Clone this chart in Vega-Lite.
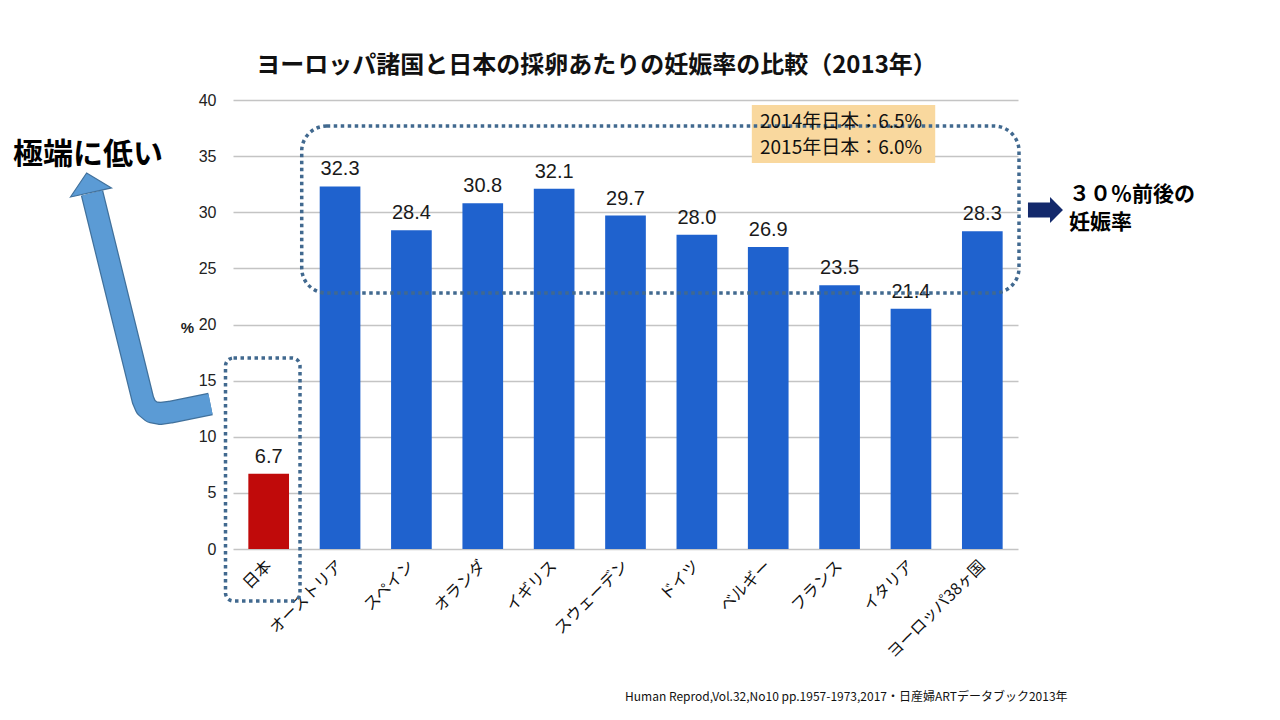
{
  "$schema": "https://vega.github.io/schema/vega-lite/v6.json",
  "width": 785,
  "height": 449,
  "autosize": {"type": "none"},
  "padding": {"left": 233, "top": 100, "right": 262, "bottom": 171},
  "background": "white",
  "config": {"view": {"stroke": null}},
  "title": {
    "text": "ヨーロッパ諸国と日本の採卵あたりの妊娠率の比較（2013年）",
    "anchor": "middle",
    "frame": "group",
    "dx": -29,
    "offset": 2,
    "baseline": "middle",
    "font": "Noto Sans CJK JP",
    "fontSize": 24,
    "fontWeight": "bold",
    "color": "#111111"
  },
  "resolve": {"scale": {"x": "independent"}},
  "layer": [
    {
      "data": {
        "values": [
          {"country": "日本", "v": 6.7, "c": "jp"},
          {"country": "オーストリア", "v": 32.3, "c": "eu"},
          {"country": "スペイン", "v": 28.4, "c": "eu"},
          {"country": "オランダ", "v": 30.8, "c": "eu"},
          {"country": "イギリス", "v": 32.1, "c": "eu"},
          {"country": "スウェーデン", "v": 29.7, "c": "eu"},
          {"country": "ドイツ", "v": 28.0, "c": "eu"},
          {"country": "ベルギー", "v": 26.9, "c": "eu"},
          {"country": "フランス", "v": 23.5, "c": "eu"},
          {"country": "イタリア", "v": 21.4, "c": "eu"},
          {"country": "ヨーロッパ38ヶ国", "v": 28.3, "c": "eu"}
        ]
      },
      "encoding": {
        "x": {
          "field": "country",
          "type": "nominal",
          "sort": null,
          "scale": {"paddingInner": 0.43, "paddingOuter": 0.215},
          "axis": {
            "title": null,
            "labelAngle": -45,
            "labelAlign": "right",
            "labelBaseline": "middle",
            "labelPadding": 14,
            "labelFont": "Noto Sans CJK JP",
            "labelFontSize": 16,
            "labelColor": "#111111",
            "ticks": false,
            "tickSize": 0,
            "domain": false,
            "grid": false
          }
        },
        "y": {
          "field": "v",
          "type": "quantitative",
          "scale": {"domain": [0, 40], "nice": false},
          "axis": {
            "values": [0, 5, 10, 15, 20, 25, 30, 35, 40],
            "title": "%",
            "titleAngle": 0,
            "titleX": -46,
            "titleY": 227,
            "titleAlign": "center",
            "titleBaseline": "middle",
            "titleFont": "Liberation Sans",
            "titleFontSize": 15,
            "titleFontWeight": "bold",
            "titleColor": "#222222",
            "labelFont": "Liberation Sans",
            "labelFontSize": 16,
            "labelColor": "#222222",
            "labelPadding": 17,
            "ticks": false,
            "tickSize": 0,
            "domain": false,
            "grid": true,
            "gridColor": "#C4C4C4",
            "gridWidth": 1.5
          }
        }
      },
      "layer": [
        {
          "mark": {"type": "bar"},
          "encoding": {
            "color": {
              "field": "c",
              "type": "nominal",
              "scale": {"domain": ["jp", "eu"], "range": ["#C00A0A", "#1F62CE"]},
              "legend": null
            }
          }
        },
        {
          "mark": {
            "type": "text",
            "baseline": "alphabetic",
            "dy": -11,
            "font": "Liberation Sans",
            "fontSize": 20,
            "color": "#1A1A1A"
          },
          "encoding": {"text": {"field": "v", "type": "quantitative", "format": ".1f"}}
        }
      ]
    },
    {
      "layer": [
        {
          "data": {"values": [{"u": 7.27, "u2": 9.84, "v": 39.55, "v2": 34.39}]},
          "mark": {"type": "rect", "fill": "#F9D89E"},
          "encoding": {
            "x": {"field": "u", "type": "quantitative", "scale": {"domain": [0, 11], "nice": false, "zero": false}, "axis": null},
            "x2": {"field": "u2"},
            "y": {"field": "v", "type": "quantitative", "scale": {"domain": [0, 40], "nice": false}},
            "y2": {"field": "v2"}
          }
        },
        {
          "data": {"values": [{"u": 0.963, "u2": 11.014, "v": 37.68, "v2": 22.8}]},
          "mark": {"type": "rect", "fill": null, "fillOpacity": 0, "stroke": "#41698F", "strokeWidth": 3.5, "strokeDash": [3.5, 3.5], "cornerRadius": 25},
          "encoding": {
            "x": {"field": "u", "type": "quantitative", "scale": {"domain": [0, 11], "nice": false, "zero": false}, "axis": null},
            "x2": {"field": "u2"},
            "y": {"field": "v", "type": "quantitative", "scale": {"domain": [0, 40], "nice": false}},
            "y2": {"field": "v2"}
          }
        },
        {
          "data": {"values": [{"u": -0.105, "u2": 0.939, "v": 17.02, "v2": -4.63}]},
          "mark": {"type": "rect", "fill": null, "fillOpacity": 0, "stroke": "#41698F", "strokeWidth": 3.5, "strokeDash": [3.5, 3.5], "cornerRadius": 8},
          "encoding": {
            "x": {"field": "u", "type": "quantitative", "scale": {"domain": [0, 11], "nice": false, "zero": false}, "axis": null},
            "x2": {"field": "u2"},
            "y": {"field": "v", "type": "quantitative", "scale": {"domain": [0, 40], "nice": false}},
            "y2": {"field": "v2"}
          }
        },
        {
          "data": {"values": [
            {"u": 7.385, "v": 38.04, "t": "2014年日本：6.5%"},
            {"u": 7.385, "v": 35.72, "t": "2015年日本：6.0%"}
          ]},
          "mark": {"type": "text", "align": "left", "baseline": "middle", "font": "Noto Sans CJK JP", "fontSize": 19, "color": "#111111"},
          "encoding": {
            "x": {"field": "u", "type": "quantitative", "scale": {"domain": [0, 11], "nice": false, "zero": false}, "axis": null},
            "y": {"field": "v", "type": "quantitative", "scale": {"domain": [0, 40], "nice": false}},
            "text": {"field": "t"}
          }
        },
        {
          "data": {"values": [{"u": -3.083, "v": 35.1, "t": "極端に低い"}]},
          "mark": {"type": "text", "align": "left", "baseline": "middle", "font": "Noto Sans CJK JP", "fontSize": 30, "fontWeight": "bold", "color": "#000000"},
          "encoding": {
            "x": {"field": "u", "type": "quantitative", "scale": {"domain": [0, 11], "nice": false, "zero": false}, "axis": null},
            "y": {"field": "v", "type": "quantitative", "scale": {"domain": [0, 40], "nice": false}},
            "text": {"field": "t"}
          }
        },
        {
          "data": {"values": [
            {"u": 11.715, "v": 31.54, "t": "３０％前後の"},
            {"u": 11.715, "v": 29.04, "t": "妊娠率"}
          ]},
          "mark": {"type": "text", "align": "left", "baseline": "middle", "font": "Noto Sans CJK JP", "fontSize": 21, "fontWeight": "bold", "color": "#000000"},
          "encoding": {
            "x": {"field": "u", "type": "quantitative", "scale": {"domain": [0, 11], "nice": false, "zero": false}, "axis": null},
            "y": {"field": "v", "type": "quantitative", "scale": {"domain": [0, 40], "nice": false}},
            "text": {"field": "t"}
          }
        },
        {
          "data": {"values": [{"u": 5.493, "v": -13.185, "t": "Human Reprod,Vol.32,No10 pp.1957-1973,2017・日産婦ARTデータブック2013年"}]},
          "mark": {"type": "text", "align": "left", "baseline": "middle", "font": "Noto Sans CJK JP", "fontSize": 12, "color": "#111111"},
          "encoding": {
            "x": {"field": "u", "type": "quantitative", "scale": {"domain": [0, 11], "nice": false, "zero": false}, "axis": null},
            "y": {"field": "v", "type": "quantitative", "scale": {"domain": [0, 40], "nice": false}},
            "text": {"field": "t"}
          }
        },
        {
          "data": {"values": [
            {"i": 0, "u": -0.3153, "v": 12.918},
            {"i": 1, "u": -0.8828, "v": 12.187},
            {"i": 2, "u": -1.0229, "v": 12.071},
            {"i": 3, "u": -1.135, "v": 12.205},
            {"i": 4, "u": -1.2191, "v": 12.65},
            {"i": 5, "u": -1.2611, "v": 13.274},
            {"i": 6, "u": -1.9758, "v": 31.715}
          ]},
          "layer": [
            {
              "mark": {"type": "line", "stroke": "#41719C", "strokeWidth": 23, "strokeCap": "butt", "strokeJoin": "round"},
              "encoding": {
                "x": {"field": "u", "type": "quantitative", "scale": {"domain": [0, 11], "nice": false, "zero": false}, "axis": null},
                "y": {"field": "v", "type": "quantitative", "scale": {"domain": [0, 40], "nice": false}},
                "order": {"field": "i", "type": "quantitative"}
              }
            },
            {
              "mark": {"type": "line", "stroke": "#5B9BD5", "strokeWidth": 20.5, "strokeCap": "butt", "strokeJoin": "round"},
              "encoding": {
                "x": {"field": "u", "type": "quantitative", "scale": {"domain": [0, 11], "nice": false, "zero": false}, "axis": null},
                "y": {"field": "v", "type": "quantitative", "scale": {"domain": [0, 40], "nice": false}},
                "order": {"field": "i", "type": "quantitative"}
              }
            }
          ]
        },
        {
          "data": {"values": [{"u": -2.0206, "v": 32.633}]},
          "mark": {"type": "point", "shape": "M-1,0.476L1,0.476L0,-0.476Z", "size": 1764, "angle": -12.5, "filled": true, "fill": "#5B9BD5", "stroke": "#41719C", "strokeWidth": 1.2, "opacity": 1},
          "encoding": {
            "x": {"field": "u", "type": "quantitative", "scale": {"domain": [0, 11], "nice": false, "zero": false}, "axis": null},
            "y": {"field": "v", "type": "quantitative", "scale": {"domain": [0, 40], "nice": false}}
          }
        },
        {
          "data": {"values": [{"u": 11.385, "v": 30.2}]},
          "mark": {"type": "point", "shape": "M-1,-0.43L0.26,-0.43L0.26,-0.74L1,0L0.26,0.74L0.26,0.43L-1,0.43Z", "size": 1225, "filled": true, "fill": "#13296B", "strokeWidth": 0, "opacity": 1},
          "encoding": {
            "x": {"field": "u", "type": "quantitative", "scale": {"domain": [0, 11], "nice": false, "zero": false}, "axis": null},
            "y": {"field": "v", "type": "quantitative", "scale": {"domain": [0, 40], "nice": false}}
          }
        }
      ]
    }
  ]
}
